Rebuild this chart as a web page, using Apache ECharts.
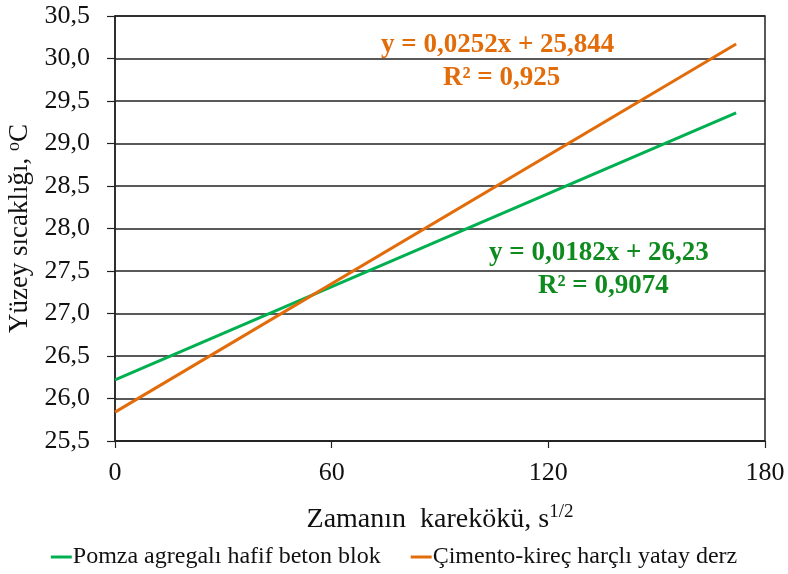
<!DOCTYPE html>
<html><head><meta charset="utf-8">
<script src="https://cdn.jsdelivr.net/npm/echarts@6/dist/echarts.min.js"></script>
<style>html,body{margin:0;padding:0;background:#fff}#c{width:788px;height:574px}</style>
</head><body><div id="c"></div>
<script>
const seriesNames = ['Pomza agregalı hafif beton blok', 'Çimento-kireç harçlı yatay derz'];
const greenLine = [[0, 26.22], [172, 29.36]];
const orangeLine = [[0, 25.84], [172, 30.17]];
const xTicks = [0, 60, 120, 180];
const yTicks = [25.5, 26.0, 26.5, 27.0, 27.5, 28.0, 28.5, 29.0, 29.5, 30.0, 30.5];
const eqOrange = ['y = 0,0252x + 25,844', 'R² = 0,925'];
const eqGreen = ['y = 0,0182x + 26,23', 'R² = 0,9074'];

const GREEN = '#00B050', ORANGE = '#E36C0A', TXT_GREEN = '#0E8A1E';
const FONT = '"Liberation Serif", "DejaVu Serif", serif';

const chart = echarts.init(document.getElementById('c'));
chart.setOption({
  animation: false,
  backgroundColor: '#fff',
  grid: { left: 115, right: 23, top: 16, bottom: 133, containLabel: false, outerBoundsMode: 'none',
    show: true, borderColor: '#222', borderWidth: 1.5 },
  xAxis: {
    type: 'value', min: xTicks[0], max: xTicks[xTicks.length - 1], interval: 60,
    axisLine: { show: true, onZero: false, lineStyle: { color: '#222', width: 1.5 } },
    axisTick: { show: true, length: 7, lineStyle: { color: '#222', width: 1.2 } },
    splitLine: { show: false },
    axisLabel: { fontFamily: FONT, fontSize: 26, color: '#111', margin: 19 },
    name: '{a|Zamanın  karekökü, s}{sup|1/2}',
    nameLocation: 'middle', nameGap: 62,
    nameTextStyle: { rich: {
      a: { fontFamily: FONT, fontSize: 28, color: '#111' },
      sup: { fontFamily: FONT, fontSize: 19, color: '#111', verticalAlign: 'bottom', padding: [0, 0, 14, 0] }
    } }
  },
  yAxis: {
    type: 'value', min: yTicks[0], max: yTicks[yTicks.length - 1], interval: 0.5,
    axisLine: { show: true, lineStyle: { color: '#222', width: 1.5 } },
    axisTick: { show: true, inside: false, length: 8, lineStyle: { color: '#222', width: 1.2 } },
    splitLine: { show: true, lineStyle: { color: '#222', width: 1.5 } },
    axisLabel: { fontFamily: FONT, fontSize: 26, color: '#111', margin: 25,
      formatter: v => v.toFixed(1).replace('.', ',') },
    name: '{a|Yüzey sıcaklığı, }{sup|o}{a|C}',
    nameLocation: 'middle', nameGap: 80, nameRotate: 90,
    nameTextStyle: { rich: {
      a: { fontFamily: FONT, fontSize: 27, color: '#111' },
      sup: { fontFamily: FONT, fontSize: 18, color: '#111', verticalAlign: 'bottom', padding: [0, 0, 12, 0] }
    } }
  },
  legend: {
    bottom: 0, left: 'center', itemWidth: 21, itemHeight: 3, itemGap: 30,
    icon: 'rect',
    textStyle: { fontFamily: FONT, fontSize: 24, color: '#111', padding: [0, 0, 0, -4] },
    data: seriesNames
  },
  series: [
    { name: seriesNames[0], type: 'line', data: greenLine, symbol: 'none', color: GREEN,
      lineStyle: { color: GREEN, width: 3 } },
    { name: seriesNames[1], type: 'line', data: orangeLine, symbol: 'none', color: ORANGE,
      lineStyle: { color: ORANGE, width: 3 } }
  ],
  graphic: [
    { type: 'text', left: 381, top: 32, style: { text: eqOrange[0], font: 'bold 27px ' + FONT, fill: ORANGE } },
    { type: 'text', left: 443, top: 65, style: { text: eqOrange[1], font: 'bold 27px ' + FONT, fill: ORANGE } },
    { type: 'text', left: 489, top: 240, style: { text: eqGreen[0], font: 'bold 27px ' + FONT, fill: TXT_GREEN } },
    { type: 'text', left: 538, top: 273, style: { text: eqGreen[1], font: 'bold 27px ' + FONT, fill: TXT_GREEN } }
  ]
});
</script></body></html>
